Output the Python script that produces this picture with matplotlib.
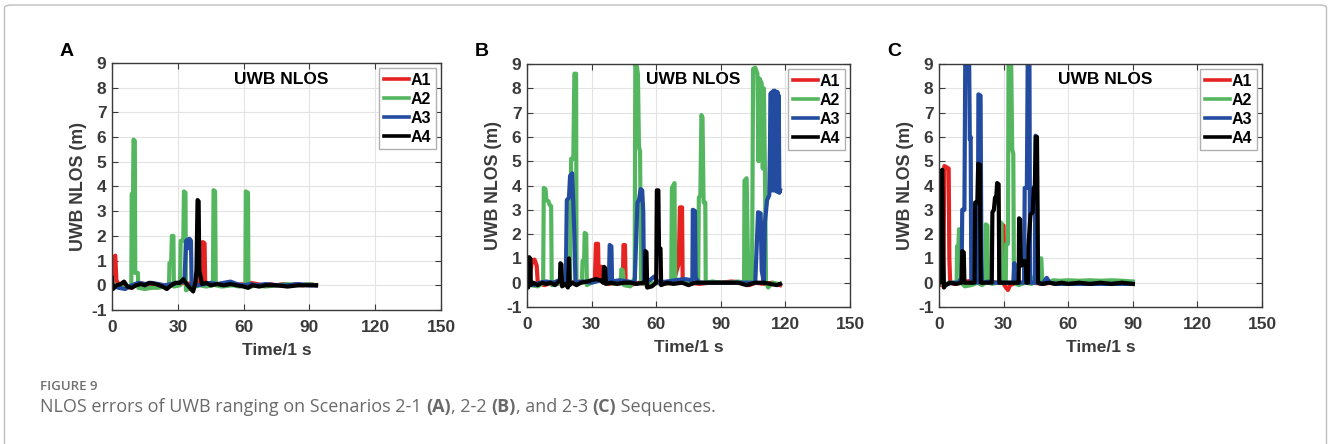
import matplotlib.pyplot as plt
from matplotlib.patches import FancyBboxPatch

plt.rcParams["font.family"] = ["Liberation Sans", "DejaVu Sans"]
plt.rcParams["axes.unicode_minus"] = False

# ---- data (time s, NLOS error m) ----
# Scenario 2-1 (A)
a_a1 = [(0, 0.3), (0.5, 1.1), (1.5, 1.2), (2, 0.2), (3, 0.05), (6, -0.05), (9, -0.1), (12, 0.1),
        (15, 0.05), (18, 0.0), (21, 0.05), (24, -0.05), (27, 0.0), (30, 0.05), (33, 0.1), (36, 0.05),
        (38, 0.0), (39.5, 0.2), (40, 1.3), (40.5, 0.3), (41, 0.1), (41.3, 1.75), (42.2, 1.7), (42.5, 0.05),
        (45, 0.0), (48, 0.05), (51, 0.0), (54, 0.05), (57, 0.0), (60, 0.05), (63, 0.1), (66, 0.05),
        (69, 0.0), (72, 0.05), (75, 0.0), (78, 0.05), (81, 0.0), (84, 0.05), (87, 0.0), (90, 0.05), (93, 0.0)]
a_a2 = [(0, 0.0), (3, -0.05), (6, -0.1), (8.8, 0.0), (9, 3.7), (9.6, 3.75), (9.8, 5.9), (10.4, 5.85),
        (10.6, 0.5), (11.8, 0.5), (12, -0.1), (15, -0.15), (18, -0.1), (21, -0.1), (24, -0.05), (26, 0.0),
        (26.2, 0.9), (27, 0.95), (27.3, 2.0), (28, 2.0), (28.2, -0.05), (31, 0.0), (31.3, 1.8), (32.5, 1.8),
        (32.8, 3.8), (33.5, 3.75), (33.7, -0.2), (36, -0.1), (40, 0.0), (43, -0.05), (46, 0.0), (46.3, 3.85),
        (47, 3.8), (47.3, 0.0), (50, -0.05), (55, 0.0), (58, -0.05), (60.8, 0.0), (61, 3.8), (62, 3.75),
        (62.2, -0.1), (65, 0.0), (70, -0.05), (75, 0.0), (80, 0.05), (85, 0.0), (90, 0.05), (93, 0.0)]
a_a3 = [(0, 0.0), (3, -0.1), (6, -0.15), (9, 0.0), (12, 0.1), (15, 0.05), (18, 0.1), (21, 0.05), (24, 0.0),
        (27, 0.05), (30, 0.1), (33, 0.15), (33.8, 1.8), (34.5, 1.85), (35, 1.5), (35.4, 1.88), (36, 1.8),
        (36.3, 0.05), (39, 0.0), (42, 0.05), (45, 0.1), (48, 0.05), (51, 0.1), (54, 0.15), (57, 0.05),
        (60, 0.0), (63, 0.05), (66, 0.0), (70, 0.05), (75, 0.0), (80, 0.0), (85, 0.05), (90, 0.0), (93, 0.0)]
a_a4 = [(0, 0.3), (0.5, -0.15), (2, 0.0), (4, 0.05), (5.5, 0.15), (7, -0.05), (9, -0.1), (11, 0.0),
        (13, 0.05), (15, 0.0), (17, 0.1), (20, 0.05), (23, -0.05), (25, -0.15), (27, 0.0), (29, 0.1),
        (31, 0.1), (32.5, 0.25), (34, 0.05), (36, -0.15), (37, -0.25), (38, 0.1), (38.5, 0.6), (39, 3.45),
        (39.5, 3.4), (39.8, 0.6), (40.5, 0.3), (41, 0.05), (43, 0.1), (45, 0.0), (48, 0.05), (51, 0.0),
        (54, 0.05), (57, 0.0), (60, -0.05), (62, -0.1), (64, 0.0), (67, -0.05), (70, 0.0), (75, 0.0),
        (80, -0.05), (85, 0.0), (90, 0.0), (93, 0.0)]

# Scenario 2-2 (B)
b_a1 = [(0, 0.3), (1, 0.0), (2.3, 0.9), (3.5, 0.95), (4.5, 0.7), (5, 0.0), (8, -0.1), (12, 0.0),
        (16, -0.05), (20, 0.0), (24, 0.05), (28, 0.0), (31.5, 0.05), (32, 1.6), (33, 1.6), (33.3, 0.1),
        (34, 0.65), (35, 0.65), (35.3, 0.0), (38, -0.05), (42, 0.0), (44.5, 0.0), (44.8, 1.55), (45.5, 1.55),
        (45.8, 0.0), (48, -0.1), (52, 0.0), (56, -0.1), (60, 0.0), (64, -0.05), (68, 0.0), (69.5, 0.5),
        (70.5, 0.8), (71, 3.1), (72, 3.1), (72.3, 0.0), (76, 0.0), (80, -0.05), (85, 0.0), (90, 0.0),
        (95, 0.05), (100, 0.0), (102.5, -0.1), (103, 0.9), (103.3, -0.1), (106, 0.0), (110, -0.05),
        (114, 0.0), (117.5, -0.1)]
b_a2 = [(0, 0.3), (2, -0.1), (5, -0.15), (7.5, 0.0), (7.8, 3.9), (8.6, 3.85), (9, 3.4), (10, 3.35),
        (10.5, 3.2), (11.2, 3.15), (11.5, -0.1), (14, -0.05), (17, 0.0), (20, 0.1), (20.5, 5.1), (21.5, 5.1),
        (22, 8.6), (22.8, 8.6), (23, 0.0), (25.5, 0.0), (25.8, 0.9), (26.5, 0.9), (26.8, 2.05), (27.5, 2.0),
        (27.8, -0.1), (30, 0.0), (34, 0.1), (38, 0.0), (41, -0.05), (43.5, 0.0), (43.8, 0.55), (44.5, 0.5),
        (45, -0.1), (48, -0.15), (50, 0.2), (50.3, 9.0), (51, 8.9), (51.5, 8.6), (52, 5.6), (52.5, 5.4),
        (53, 0.0), (56, -0.1), (59, 0.0), (63, -0.05), (67, 0.0), (67.3, 3.9), (68.5, 4.1), (68.8, 0.0),
        (72, 0.0), (76, 0.0), (79.5, 0.0), (79.8, 3.5), (80.5, 3.6), (81, 6.9), (81.5, 6.8), (82, 3.3),
        (82.8, 3.3), (83, 0.0), (86, 0.05), (90, 0.0), (94, 0.0), (98, 0.05), (100.8, 0.0), (101, 4.2),
        (102, 4.3), (102.8, 0.0), (104.5, 0.0), (105, 8.8), (106, 8.85), (107, 8.6), (107.5, 5.0), (108, 8.4),
        (109, 8.2), (109.5, 4.7), (110, 8.0), (110.5, 4.6), (111, 0.0), (112, -0.2), (114, 0.0), (117, -0.05)]
b_a3 = [(0, 0.2), (3, -0.1), (6, 0.0), (9, 0.05), (12, 0.0), (15, 0.1), (18, 0.0), (18.5, 3.4), (19.5, 3.5),
        (20, 4.4), (21, 4.5), (22, 2.0), (22.5, 0.0), (26, 0.05), (30, 0.0), (34, 0.1), (38, 0.0),
        (38.4, 1.55), (39.2, 1.5), (39.5, 0.05), (43, 0.1), (47, 0.05), (50, 0.0), (51.3, 3.3), (52, 3.4),
        (52.8, 3.85), (53.5, 3.8), (54, 2.9), (54.3, 0.0), (57, 0.1), (59, 0.25), (61, 0.0), (65, 0.05),
        (69, 0.1), (73, 0.15), (76.8, 0.1), (77, 3.0), (78, 2.95), (78.3, 0.2), (80, 0.0), (84, 0.0),
        (88, 0.0), (92, 0.0), (96, 0.0), (100, 0.0), (104, 0.0), (106, 0.0), (107.3, 2.9), (108.5, 2.85),
        (109, 0.5), (110, 0.0), (110.5, 2.5), (111.5, 3.4), (112.5, 3.6), (113.2, 7.8), (113.5, 3.8),
        (113.9, 7.85), (114.2, 3.8), (114.5, 7.9), (114.8, 3.8), (115.1, 7.9), (115.4, 3.8), (115.7, 7.85),
        (116.0, 3.75), (116.3, 7.85), (116.6, 3.75), (116.9, 7.7), (117.2, 3.7), (117.5, 3.8)]
b_a4 = [(0, 0.3), (0.5, -0.2), (1, 1.05), (1.5, 1.0), (1.8, -0.1), (3, 0.0), (5, -0.1), (7, 0.0),
        (9, -0.05), (11, 0.0), (13, -0.1), (15.3, 0.1), (15.5, 0.8), (16, 0.75), (16.3, -0.15), (18, -0.05),
        (19, -0.2), (19.5, 1.0), (19.8, -0.1), (21, 0.0), (23, -0.1), (25, 0.0), (28, 0.05), (30, 0.1),
        (32, 0.15), (34, 0.1), (35.5, 0.0), (35.8, 0.65), (36.3, 0.6), (36.6, -0.05), (39, 0.0), (42, -0.05),
        (45, 0.0), (48, 0.0), (51, -0.05), (54, 0.0), (54.8, 0.0), (55, 1.3), (55.5, 1.25), (55.8, -0.2),
        (58, -0.15), (60, 0.0), (60.3, 3.8), (61, 3.8), (61.3, 1.45), (62, 1.4), (62.3, -0.1), (65, 0.0),
        (68, -0.05), (72, 0.0), (75, -0.1), (78, 0.0), (82, 0.0), (86, 0.0), (90, 0.0), (94, 0.0), (98, 0.0),
        (102, -0.1), (106, 0.0), (110, 0.0), (113, -0.05), (116, -0.1), (117.5, -0.05)]

# Scenario 2-3 (C)
c_a1 = [(0, 0.3), (1, -0.1), (2, 0.0), (2.5, 4.8), (3.5, 4.75), (4.5, 4.7), (4.8, 1.0), (5.2, 0.0),
        (7, -0.05), (10, 0.0), (13, 0.05), (16, 0.1), (18, 0.2), (20, 0.0), (24, 0.05), (27, 0.0),
        (28.8, 0.0), (29, 2.4), (30, 2.35), (30.3, -0.1), (32, -0.3), (33, -0.1), (36, 0.0), (40, 0.0),
        (44, 0.0), (48, -0.05), (52, 0.0), (56, -0.05), (60, 0.0), (65, -0.05), (70, 0.0), (75, 0.0),
        (80, -0.05), (85, 0.0), (90, -0.05)]
c_a2 = [(0, 0.2), (2, -0.1), (5, 0.0), (8.2, 0.0), (8.4, 1.5), (9, 1.5), (9.3, 2.2), (10, 2.15), (10.3, 0.0),
        (12, -0.15), (15, -0.1), (18, 0.0), (20, -0.1), (21.5, 0.0), (21.7, 2.4), (22.5, 2.35), (22.8, 0.0),
        (25, -0.05), (28, 0.05), (28.3, 2.5), (29, 2.45), (29.3, 0.0), (31, 0.0), (31.2, 1.6), (32, 1.6),
        (32.3, 9.2), (33.5, 9.2), (34, 5.5), (34.5, 5.3), (34.8, 0.0), (37, -0.1), (40, 0.0), (43, -0.05),
        (44.5, 0.3), (46, 0.0), (46.5, 1.0), (47.5, 1.0), (48, 0.0), (51, 0.0), (53, 0.1), (56, 0.08),
        (60, 0.1), (65, 0.08), (70, 0.1), (75, 0.08), (80, 0.1), (85, 0.08), (90, 0.05)]
c_a3 = [(0, 0.2), (3, -0.1), (6, 0.0), (9, 0.0), (10.5, 0.2), (10.8, 3.0), (11.8, 3.0), (12.2, 9.2),
        (14, 9.2), (14.3, 5.9), (14.7, 6.0), (15, 0.0), (17, 0.05), (18, 0.0), (18.3, 7.75), (19.3, 7.7),
        (19.7, 1.0), (20, 0.0), (23, 0.05), (26, 0.0), (30, 0.0), (33, 0.0), (34.5, 0.0), (35, 0.8),
        (35.5, 0.0), (38, 0.0), (39.5, 0.0), (39.8, 3.9), (40.8, 3.9), (41.2, 9.2), (42, 9.2), (42.3, 0.0),
        (44.5, 0.0), (44.8, 6.05), (45.3, 6.0), (45.6, 0.0), (48, -0.05), (50, 0.2), (51.5, 0.0),
        (55, -0.05), (60, -0.05), (65, -0.05), (70, -0.05), (75, -0.05), (80, -0.05), (85, -0.05), (90, -0.05)]
c_a4 = [(0, 0.3), (0.5, 0.0), (1, 4.5), (1.5, 4.65), (2, 1.0), (2.3, -0.2), (3, -0.1), (5, 0.0), (8, -0.05),
        (10.5, 0.0), (10.8, 1.3), (11.5, 1.25), (11.8, 0.0), (14, 0.0), (16.5, 0.0), (16.8, 3.3), (17.8, 3.3),
        (18.2, 4.9), (19, 4.85), (19.4, 0.0), (22, 0.0), (24.5, 0.0), (24.8, 2.9), (25.5, 3.0), (26, 3.5),
        (26.5, 3.4), (27, 4.1), (27.7, 4.05), (28, 0.0), (30, 0.0), (33, 0.0), (36, 0.0), (37, 0.0),
        (37.2, 2.65), (37.7, 2.6), (38, 0.7), (39, 0.75), (39.5, 0.9), (40.3, 0.85), (40.6, 0.0), (41.3, 0.0),
        (41.5, 1.5), (42.5, 2.8), (43.5, 2.9), (44, 3.9), (44.5, 4.0), (45, 6.0), (45.5, 6.0), (45.8, 3.0),
        (46, 0.0), (48, -0.05), (51, 0.0), (54, -0.05), (57, 0.0), (60, -0.05), (65, 0.0), (70, -0.05),
        (75, 0.0), (80, -0.05), (85, 0.0), (90, -0.05)]

labels = ["A1", "A2", "A3", "A4"]
colors = ["#e52421", "#55b660", "#234b9f", "#000000"]
panels = ["A", "B", "C"]
xticks = [0, 30, 60, 90, 120, 150]
yticks = [-1, 0, 1, 2, 3, 4, 5, 6, 7, 8, 9]

series = [[a_a1, a_a2, a_a3, a_a4], [b_a1, b_a2, b_a3, b_a4], [c_a1, c_a2, c_a3, c_a4]]

fig = plt.figure(figsize=(13.28, 4.44), dpi=100)

# frame around the figure
fig.patches.append(FancyBboxPatch((4.5 / 1328, -0.1), 1322 / 1328, 1.1 - 5 / 444,
                                  boxstyle="round,pad=0,rounding_size=0.006",
                                  transform=fig.transFigure, fill=False,
                                  edgecolor="#bdbdbd", linewidth=1.0))

boxes = [(112, 63, 441, 310), (527, 64, 850, 307), (939, 64, 1262, 307)]
gray = "#3a3a3a"

for k, (box, data) in enumerate(zip(boxes, series)):
    x0, y0, x1, y1 = box
    ax = fig.add_axes([x0 / 1328, 1 - y1 / 444, (x1 - x0) / 1328, (y1 - y0) / 444])
    for d, lab, col in zip(data, labels, colors):
        t = [p[0] for p in d]
        v = [p[1] for p in d]
        ax.plot(t, v, color=col, lw=3.0, label=lab)
    ax.set_xlim(0, 150)
    ax.set_ylim(-1, 9)
    ax.set_xticks(xticks)
    ax.set_yticks(yticks)
    ax.grid(True, color="#e3e3e3", lw=0.8)
    ax.set_axisbelow(True)
    ax.tick_params(direction="in", top=True, right=True, length=4, width=0.8,
                   colors=gray, labelsize=12.5)
    ax.tick_params(axis="x", pad=7)
    ax.tick_params(axis="y", pad=4)
    for lbl in ax.get_xticklabels() + ax.get_yticklabels():
        lbl.set_fontweight("bold")
    for s in ax.spines.values():
        s.set_color(gray)
        s.set_linewidth(1.0)
    ax.set_xlabel("Time/1 s", fontsize=12.5, fontweight="bold", color=gray, labelpad=6)
    ax.set_ylabel("UWB NLOS (m)", fontsize=12.8, fontweight="bold", color=gray, labelpad=3)
    ax.text(77, 8.35, "UWB NLOS", ha="center", va="center", fontsize=12.5, fontweight="bold")
    leg = ax.legend(loc="upper right", fontsize=11.5, handlelength=1.55, handletextpad=0.15,
                    labelspacing=0.25, borderpad=0.3, borderaxespad=0.3, fancybox=False,
                    framealpha=1)
    leg.get_frame().set_edgecolor("#b0b0b0")
    leg.get_frame().set_linewidth(1.0)
    for txt in leg.get_texts():
        txt.set_fontweight("bold")
    for ln in leg.get_lines():
        ln.set_linewidth(2.6)
    fig.text((x0 - 52) / 1328, 1 - 51 / 444, panels[k], fontsize=14, fontweight="bold",
             ha="left", va="center")

# caption
fig.text(40 / 1328, 1 - 386 / 444, "FIGURE 9", fontsize=9.5, color="#707070",
         fontweight="semibold", family="Open Sans", va="center")

parts = [("NLOS errors of UWB ranging on Scenarios 2-1 ", "normal"), ("(A)", "bold"),
         (", 2-2 ", "normal"), ("(B)", "bold"), (", and 2-3 ", "normal"), ("(C)", "bold"),
         (" Sequences.", "normal")]
renderer = fig.canvas.get_renderer()
xpos = 40
for s, w in parts:
    tx = fig.text(xpos / 1328, 1 - 407 / 444, s, fontsize=13, color="#6a6a6a",
                  fontweight=w, family="Open Sans", va="center")
    bb = tx.get_window_extent(renderer)
    xpos += bb.width

fig.savefig("out.png", dpi=100)
